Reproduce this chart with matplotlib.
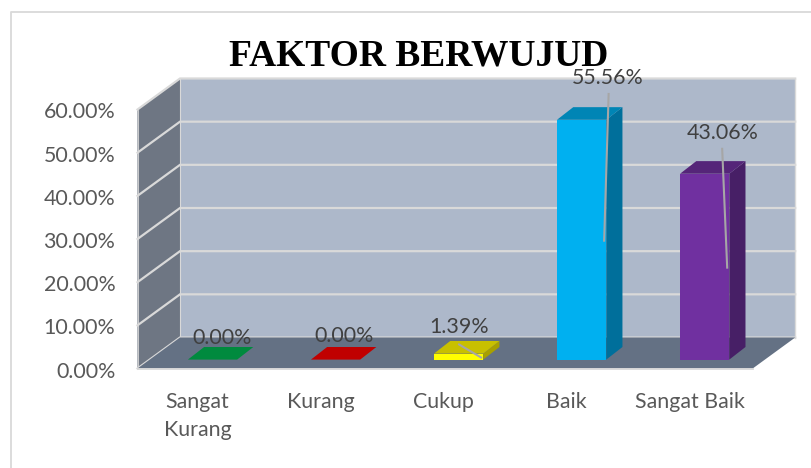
import matplotlib
matplotlib.use("Agg")
import matplotlib.pyplot as plt
from matplotlib.lines import Line2D
from matplotlib.transforms import Affine2D, IdentityTransform

categories = ["Sangat\nKurang", "Kurang", "Cukup", "Baik", "Sangat Baik"]
values = [0.00, 0.00, 1.39, 55.56, 43.06]
value_labels = ["0.00%", "0.00%", "1.39%", "55.56%", "43.06%"]
y_ticks = [0, 10, 20, 30, 40, 50, 60]
y_tick_labels = ["0.00%", "10.00%", "20.00%", "30.00%", "40.00%", "50.00%", "60.00%"]
title = "FAKTOR BERWUJUD"

front_colors = ["#00B050", "#C00000", "#FFFF00", "#00B0F0", "#7030A0"]
top_colors = ["#008A3E", "#C00000", "#C8C000", "#0085B5", "#552579"]
side_colors = ["#006E31", "#960000", "#A8A000", "#006F9B", "#471F66"]

W, H = 811, 468
fig = plt.figure(figsize=(W / 100, H / 100), dpi=100, facecolor="white")
ax = fig.add_axes([137.5 / W, (H - 368.5) / H, 615.2 / W, 259 / H])
ax.set_xlim(-0.5, 4.5)
ax.set_ylim(0, 60)
ax.patch.set_visible(False)
for s in ax.spines.values():
    s.set_visible(False)

FONT = "Lato"
TICK_COLOR = "#595959"
LABEL_COLOR = "#404040"
GRID = "#D9D9D9"
WALL, SIDE, FLOOR = "#ADB8CA", "#6E7683", "#647184"


def shift(dx, dy):
    return ax.transData + Affine2D().translate(dx, dy)


DEPTH = (42.5, 31.0)
back = shift(*DEPTH)
x0, x1 = ax.get_xlim()
y0, y1 = ax.get_ylim()
d = ax.transData
ppx = (d.transform((1, 0))[0] - d.transform((0, 0))[0])
ppy = (d.transform((0, 1))[1] - d.transform((0, 0))[1])
ddx, ddy = DEPTH[0] / ppx, DEPTH[1] / ppy

ax.fill([x0, x1, x1, x0], [y0, y0, y1, y1], color=WALL, lw=0, transform=back, zorder=1, clip_on=False)
ax.fill([x0, x0 + ddx, x0 + ddx, x0], [y0, y0 + ddy, y1 + ddy, y1], color=SIDE, lw=0, zorder=1, clip_on=False)
ax.fill([x0, x1, x1 + ddx, x0 + ddx], [y0, y0, y0 + ddy, y0 + ddy], color=FLOOR, lw=0, zorder=1.2, clip_on=False)

for t in y_ticks:
    ax.plot([x0, x0 + ddx, x1 + ddx], [t, t + ddy, t + ddy], color=GRID, lw=1.6, zorder=1.1,
            clip_on=False, solid_joinstyle="miter")
ax.plot([x1 + ddx, x1 + ddx], [y0 + ddy, y1 + ddy], color=GRID, lw=1.0, zorder=1.1, clip_on=False)
ax.plot([x0 + ddx, x0 + ddx], [y0 + ddy, y1 + ddy], color=GRID, lw=0.8, zorder=1.1, clip_on=False)
ax.plot([x0, x1], [y0, y0], color=GRID, lw=1.3, zorder=1.3, clip_on=False)
ax.plot([x0, x0], [y0, y1], color=GRID, lw=0.6, zorder=1.1, clip_on=False)

BAR_W = 0.4
fx, fy = 13.5 / ppx, 8.9 / ppy
bx, by = 16.2 / ppx, 12.6 / ppy
for i, v in enumerate(values):
    l, r = i - BAR_W / 2 + fx, i + BAR_W / 2 + fx
    b, t = fy, v + fy
    if v > 0:
        ax.fill([l, r, r, l], [b, b, t, t], color=front_colors[i], lw=0, zorder=3, clip_on=False)
        ax.fill([r, r + bx, r + bx, r], [b, b + by, t + by, t], color=side_colors[i], lw=0, zorder=3, clip_on=False)
    ax.fill([l, r, r + bx, l + bx], [t, t, t + by, t + by], color=top_colors[i], lw=0, zorder=3, clip_on=False)

ax.set_yticks(y_ticks, y_tick_labels, fontfamily=FONT, fontsize=15.4, color=TICK_COLOR)
ax.set_xticks(range(len(categories)), categories, fontfamily=FONT, fontsize=15.4, color=TICK_COLOR,
              linespacing=1.5)
ax.tick_params(axis="y", length=0, pad=16)
ax.tick_params(axis="x", length=0, pad=17)
for lab in ax.get_yticklabels():
    lab.set_y(-0.0)
    lab.set_transform(lab.get_transform() + Affine2D().translate(0, -1))
for lab in ax.get_xticklabels():
    lab.set_transform(lab.get_transform() + Affine2D().translate(-1.5, 0))

label_offsets = [(23, 30), (22, 33), (14, 35), (40, 50.7), (31, 49.8)]
leaders = [None, None, ((14, 18), (36, 5)), ((40.5, 34.7), (36, -112)), ((31, 33.8), (36, -85))]
for i, v in enumerate(values):
    ax.annotate(value_labels[i], xy=(i, v), xytext=label_offsets[i], textcoords="offset pixels",
                ha="center", va="center", fontfamily=FONT, fontsize=15.4, color=LABEL_COLOR,
                zorder=6, annotation_clip=False)
    if leaders[i]:
        px, py = d.transform((i, v))
        (a, b_), (c, e) = leaders[i]
        fig.add_artist(Line2D([px + a, px + c], [py + b_, py + e], color="#A6A6A6", lw=1.5,
                              transform=IdentityTransform(), zorder=5))

fig.text(418.5 / W, (H - 56.5) / H, title, ha="center", va="center", family="Liberation Serif",
         weight="bold", fontsize=27, color="black", zorder=7)

fig.add_artist(Line2D([10.5 / W, 10.5 / W, 1], [0, (H - 11.5) / H, (H - 11.5) / H], color=GRID, lw=1.3,
                      transform=fig.transFigure, zorder=0))

fig.savefig("out.png", dpi=100)
